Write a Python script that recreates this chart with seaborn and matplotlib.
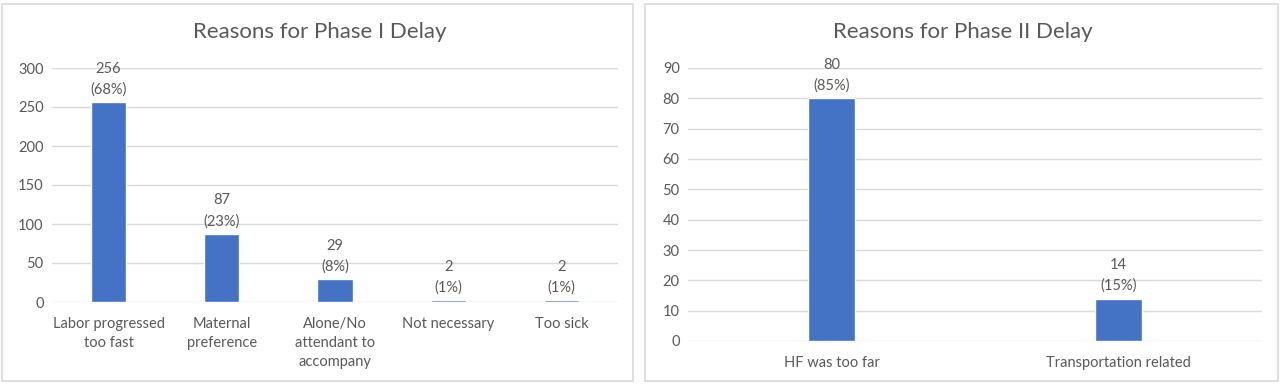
import numpy as np
import pandas as pd
import seaborn as sns
import matplotlib.pyplot as plt
from matplotlib.patches import Rectangle

# data
reasons_1 = ["Labor progressed\ntoo fast", "Maternal\npreference",
             "Alone/No\nattendant to\naccompany", "Not necessary", "Too sick"]
counts_1 = [256, 87, 29, 2, 2]
pct_1 = ["68%", "23%", "8%", "1%", "1%"]

reasons_2 = ["HF was too far", "Transportation related"]
counts_2 = [80, 14]
pct_2 = ["85%", "15%"]

sns.set_theme(style="white")
plt.rcParams['font.family'] = ['Lato', 'DejaVu Sans']

bar_color = "#4472C4"
txt_color = "#595959"
grid_color = "#D9D9D9"

fig = plt.figure(figsize=(12.8, 3.85), dpi=100)

# panel borders
for x0, x1 in [(2, 633), (645, 1278)]:
    fig.patches.append(Rectangle((x0 / 1280, 4 / 385), (x1 - x0) / 1280, 377 / 385,
                                 transform=fig.transFigure, fill=False,
                                 edgecolor=grid_color, linewidth=1.2))

ax1 = fig.add_axes([52 / 1280, 83 / 385, 566 / 1280, 234 / 385])
ax2 = fig.add_axes([688 / 1280, 44 / 385, 574 / 1280, 273 / 385])


def draw(ax, cats, vals, pcts, width, ymax, step, title, title_x):
    df = pd.DataFrame({"reason": cats, "count": vals})
    sns.barplot(data=df, x="reason", y="count", color=bar_color, width=width,
                saturation=1, ax=ax, zorder=3)
    ax.set_xlim(-0.5, len(cats) - 0.5)
    ax.set_ylim(0, ymax)
    ax.set_yticks(np.arange(0, ymax + 1, step))
    ax.yaxis.grid(True, color=grid_color, linewidth=1)
    ax.set_axisbelow(True)
    for s in ax.spines.values():
        s.set_visible(False)
    ax.set_xlabel("")
    ax.set_ylabel("")
    ax.tick_params(axis="both", length=0, labelsize=10.5, labelcolor=txt_color)
    ax.tick_params(axis="y", pad=6)
    ax.tick_params(axis="x", pad=11)
    for lbl in ax.get_xticklabels():
        lbl.set_linespacing(1.45)
    for i, (v, p) in enumerate(zip(vals, pcts)):
        ax.annotate(f"{v}\n({p})", (i, v), xytext=(0, 4), textcoords="offset points",
                    ha="center", va="bottom", fontsize=10.5, color=txt_color,
                    linespacing=1.6)
    fig.text(title_x, 1 - 32 / 385, title, ha="center", va="center",
             fontsize=16, color=txt_color)


draw(ax1, reasons_1, counts_1, pct_1, 0.31, 300, 50, "Reasons for Phase I Delay", 320 / 1280)
draw(ax2, reasons_2, counts_2, pct_2, 0.165, 90, 10, "Reasons for Phase II Delay", 963 / 1280)

fig.savefig("out.png", dpi=100)
